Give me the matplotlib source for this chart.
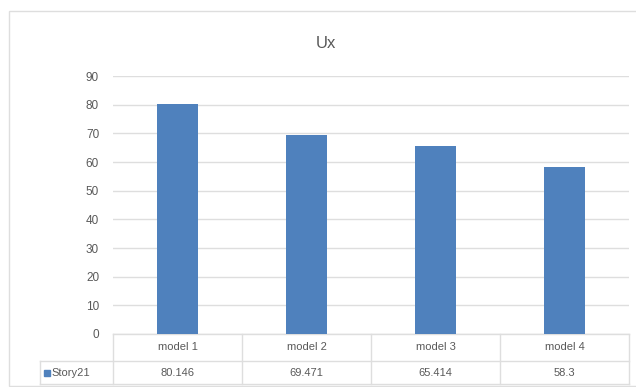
import matplotlib.pyplot as plt
from matplotlib.patches import Rectangle
from matplotlib.lines import Line2D
import matplotlib.transforms as mtransforms

categories = ['model 1', 'model 2', 'model 3', 'model 4']
values = [80.146, 69.471, 65.414, 58.3]
value_labels = ['80.146', '69.471', '65.414', '58.3']
series_name = 'Story21'
yticks = [0, 10, 20, 30, 40, 50, 60, 70, 80, 90]

BLUE = '#4f81bd'
TEXT = '#595959'
GRID = '#dedede'
W, H = 636, 387


def main():
    plt.rcParams['font.family'] = ['Liberation Sans', 'DejaVu Sans']
    fig = plt.figure(figsize=(W / 100, H / 100), dpi=100)

    # chart border
    fig.add_artist(Rectangle((9 / W, 1 / H), (W - 8) / W, (H - 12) / H,
                             transform=fig.transFigure, fill=False,
                             edgecolor=GRID, lw=1))

    left, right, top, bottom = 113, 629, 76, 334
    ax = fig.add_axes([left / W, 1 - bottom / H, (right - left) / W, (bottom - top) / H])
    x = range(len(categories))
    ax.bar(x, values, width=0.32, color=BLUE, zorder=3)
    ax.set_xlim(-0.5, len(categories) - 0.5)
    ax.set_ylim(0, 90)
    ax.set_yticks(yticks)
    ax.set_yticklabels([str(t) for t in yticks])
    ax.tick_params(axis='y', length=0, pad=10, labelsize=8.5, labelcolor=TEXT)
    ax.tick_params(axis='x', length=0, labelbottom=False)
    ax.grid(axis='y', color=GRID, lw=1, zorder=0)
    for s in ax.spines.values():
        s.set_visible(False)

    fig.text(326 / W, 1 - 43 / H, 'Ux', ha='center', va='center',
             fontsize=12, color=TEXT)

    # data table below the plot
    ph = bottom - top
    pw = right - left
    r1 = -(361 - bottom) / ph
    r2 = -(384 - bottom) / ph
    xl = (40 - left) / pw
    tr = ax.transAxes
    bl = mtransforms.blended_transform_factory(ax.transData, ax.transAxes)
    kw = dict(color=GRID, lw=1, clip_on=False)
    ax.add_line(Line2D([0, 1], [0, 0], transform=tr, **kw))
    ax.add_line(Line2D([xl, 1], [r1, r1], transform=tr, **kw))
    ax.add_line(Line2D([xl, 1], [r2, r2], transform=tr, **kw))
    ax.add_line(Line2D([xl, xl], [r1, r2], transform=tr, **kw))
    for b in range(len(categories) + 1):
        ax.add_line(Line2D([b - 0.5, b - 0.5], [0, r2], transform=bl, **kw))

    for i, (c, v) in enumerate(zip(categories, value_labels)):
        ax.text(i, r1 / 2, c, transform=bl, ha='center', va='center',
                fontsize=8, color=TEXT)
        ax.text(i, (r1 + r2) / 2, v, transform=bl, ha='center', va='center',
                fontsize=8, color=TEXT)

    ax.add_patch(Rectangle((xl + 4 / pw, (r1 + r2) / 2 - 3 / ph), 6 / pw, 6 / ph,
                           transform=tr, color=BLUE, clip_on=False))
    ax.text(xl + 11 / pw, (r1 + r2) / 2, series_name, transform=tr,
            ha='left', va='center', fontsize=8, color=TEXT)

    fig.savefig('out.png', dpi=100)


if __name__ == '__main__':
    main()
